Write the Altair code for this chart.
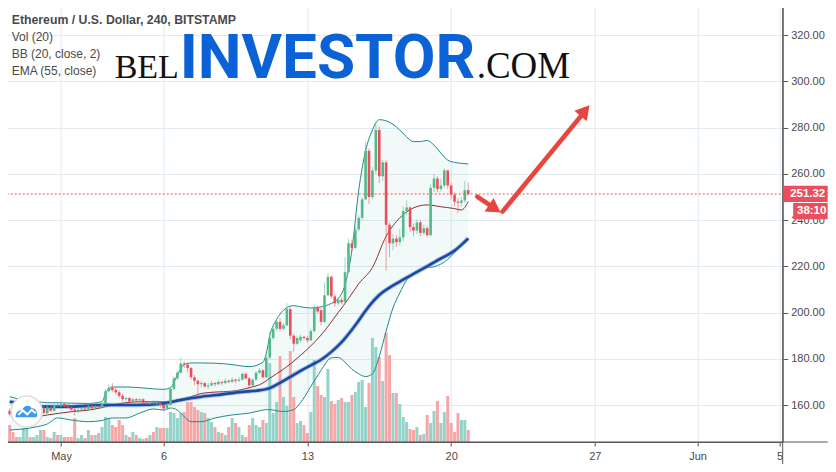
import altair as alt
import pandas as pd

# ---------------- data (4h candles, ETH/USD, from 28 Apr 12:00) ----------------
opens = [157.5,156,154.5,153,154,155.5,156,155,156.5,157.5,158.5,156.5,159,157.5,160,159.5,160.5,159.5,159,158,
         157,158,158.5,158,159.5,158.5,159.5,159,160.5,166,167.5,166.5,165.5,164,162.5,163,161.5,162.5,162,162.5,
         161,160.5,161,160.5,161,160,158.5,160,167,171.5,174,178,177.5,176,172,170.5,169,169.5,168,168.5,
         169.5,169,170,169.5,170.5,170,171,170.5,171,173.5,171.5,168.5,171,174,175,172,180.5,189,193,196,
         193,194.5,201.5,190,186.5,188,189.5,189,188,192,202,201,196,207.5,215.5,207,204,205.5,204.5,217.5,
         230,228,236,241,249,270,250,261.5,279,259,265,238,230,232,230.5,232.5,244,245.5,237,235.5,
         239,234.5,236.5,233.5,254,258,253.5,255,261.5,255,251,248,247.5,248.5,253]
closes = [156,154.5,153,154,155.5,156,155,156.5,157.5,158.5,156.5,159,157.5,160,159.5,160.5,159.5,159,158,157,
          158,158.5,158,159.5,158.5,159.5,159,160.5,166,167.5,166.5,165.5,164,162.5,163,161.5,162.5,162,162.5,161,
          160.5,161,160.5,161,160,158.5,160,167,171.5,174,178,177.5,176,172,170.5,169,169.5,168,168.5,169.5,
          169,170,169.5,170.5,170,171,170.5,171,173.5,171.5,168.5,171,174,175,172,180.5,189,193,196,193,
          194.5,201.5,190,186.5,189,189.5,189,188,192,202,200.5,196,207.5,215.5,207,204,205.5,204.5,217.5,230,
          228,236,241,249,270,250,261.5,279,259,265,238,230,232,230.5,232.5,244,245.5,237,235.5,239,
          234.5,236.5,233.5,254,258,253.5,255,261.5,255,251,248,247.5,248.5,253,251.32]
highs = [158.5,157,155.5,155,156.5,157,157,157.5,158.5,159.5,159.5,160,159.5,161,161,161.5,161,160.5,159.5,159,
         158.5,159,159,160,160,160,160,161,167,169,169.5,167.5,166.5,165,163.5,163.5,163,163,163,163,
         161.5,161.5,162,162,161.5,160.5,161,168,172.5,175,180.5,179,178.5,176.5,173,171,170.5,170,169.5,170.5,
         170,171,170.5,171.5,171,172,171.5,172,174,174,172,171.5,174.5,176,175.5,181.5,192,194,197,197.5,
         195.5,204,202,191,190,190.5,190,190,193,203.5,203,202,213,217,216,208,206.5,206.5,224,232,
         231.5,237,242,250,274,271,263,282,280.5,266,266,239,234,233.5,236,246,248.5,246,238.5,240.5,
         240,238,237.5,255.5,260,259,258,262.5,262,256,252,249.5,250,257,256.5]
lows = [155,153.5,152,152,153.5,155,154,154.5,156,157,156,156,157,157,159,159,159,158.5,157,155.5,
        156.5,157.5,157.5,157.5,158,158,158.5,158.5,160,165.5,165.5,164.5,163,161.5,161.5,161,161,161.5,161.5,160.5,
        160,160,159.5,160,159,157.5,158,159.5,166.5,171,173.5,176,174,171,168.5,163.5,167.5,167.5,167,168,
        168,168.5,168.5,169,169.5,169.5,169.5,170,170.5,171,167,168,170.5,173.5,171.5,171.5,180,188,192,192,
        192.5,194,188.5,183,186,187,188,187,187.5,191.5,199.5,194.5,195.5,207,206,202.5,203,203.5,204,217,
        226.5,227.5,235,240,248.5,247,249,260,256,257,218,224,227,228.5,229,231,242,235,233,234,
        233,233.5,232.5,233,252,252,252.5,254,253.5,249,246,243,246,247.5,250.5]
volumes = [8.5,5,2.5,2.5,7,7,2.5,2.5,3.5,6,6,2.5,2,5,3.5,3.5,2.5,2.5,2.5,12,
           2,3.5,2,6,3.5,3.5,4.5,7.5,12.5,12,8.5,7.5,11,8.5,3.5,2.5,5,3.5,2,1.5,
           2,3.5,5,7.5,7,7,7,15,14.5,12,14.5,15,20,20,17.5,16,15,14.5,12,10,
           7.5,5,4.5,3.5,7.5,12,9.5,7.5,3.5,2.5,8.5,12,8.5,7.5,11,9.5,39.5,14.5,20,43,
           22.5,18,45.5,22.5,9.5,10.5,8.5,4.5,15,41,28,23.5,22.5,36.5,20.5,19,21,22,20,20,
           23.5,25,30,31,17.5,29.5,52,47.5,42.5,30.5,54.5,43.5,24.5,24.5,19,12.5,10,6.5,6,7.5,
           3.5,4,13.5,9.5,15.5,20.5,9.5,15,23,9.5,5,14.5,11,11,6]

# indicator readings (candle index -> value)
band_idx = [0,3,8,11,14,18,23,27,28,30,34,38,42,45,47,49,51,53,56,60,65,70,74,75,76,78,80,83,85,88,91,94,96,98,
            100,102,104,106,108,110,112,114,116,118,120,122,124,126,128,130,132,134]
bb_upper = [163.6,162.5,161.5,161,161,160.8,160.7,161.5,165,167.8,167.8,167.5,167,166.8,167.5,173,177.5,178.2,178.2,178.1,
            177.5,176.6,178.5,182.5,190,197,201,203,202.5,202,202.5,204,206,212,
            227,253,270,279,283.5,283,281.5,279,276,274,274,274.5,272.5,269,266,265,264.6,264.3]
bb_lower = [149.2,149.5,150.6,151.8,154.4,153.5,152.8,153.3,153.8,154.4,154.4,156.5,158.3,157.8,158.7,157.8,155,152.8,152.8,154.4,
            155.7,156.5,157.8,158,158,157.5,157.2,158,161,168,175,180.4,180.6,178.5,
            175.5,173.5,172.3,173.5,181,192,202,208.5,214,217,218.5,219.5,219.8,221,223,226,229.3,232]
basis_idx = [0,5,11,18,23,27,30,38,45,49,53,56,60,65,70,74,76,80,85,91,96,99,102,106,110,114,118,122,126,130,132,134]
bb_basis = [156.5,154.4,155.7,157.1,157.8,158.9,160,161.4,161.4,162.2,163.6,165,165.6,166,167.5,169.5,171.6,175.5,181.5,190.3,
            200,206,212.5,219.5,233,241,245.3,246.6,245.8,245,244.4,248]
ema_idx = [0,4,10,18,27,37,45,50,56,62,68,72,76,79,82,85,88,91,94,97,100,102,104,106,108,111,114,117,120,123,126,128,130,132,134]
ema_vals = [161.4,160.7,159.3,159.3,160,160,160.7,162.2,163.6,164.6,165.7,166.2,167.3,169.6,172.2,174.8,177.2,179.6,183,187.2,
            192.6,196.6,200.8,204.5,207.6,210.8,213.4,215.9,218.4,220.9,223.4,225,226.8,229.3,232.1]

tick_days = [0, 5, 12, 19, 26, 31, 35]
tick_labels = ["May", "6", "13", "20", "27", "Jun", "5"]
price_ticks = [160, 180, 200, 220, 240, 260, 280, 300, 320]
last_price = 251.32
countdown = "38:10"
title_text = "Ethereum / U.S. Dollar, 240, BITSTAMP"
legend_text = "Vol (20)\nBB (20, close, 2)\nEMA (55, close)"

# arrow annotation (day, price)
arrow1_day = [20.27, 21.05]
arrow1_price = [250.15, 245.5]
arrow2_day = [21.5, 25.46]
arrow2_price = [243.7, 286.5]
head_day = [21.13, 25.52]
head_price = [245.0, 287.4]
head_angle = [123.7, 39.8]

X_DOMAIN = [-2.596, 34.904]
Y_DOMAIN = [144.0, 334.4]
W, H = 780, 440
RP, BP = 45, 22          # room for price scale and time scale (keeps page free of scrollbars)

UP, DOWN = "#53b987", "#eb4d5c"
VOL_UP, VOL_DOWN = "#93d3c9", "#f6a6a6"

def day(i):
    return -2.5 + i / 6.0

candles = pd.DataFrame({
    "day": [day(i) for i in range(len(opens))],
    "open": opens, "close": closes, "high": highs, "low": lows, "vol": volumes,
})
candles["dir"] = ["up" if c >= o else "down" for o, c in zip(opens, closes)]

band = pd.DataFrame({"day": [day(i) for i in band_idx], "upper": bb_upper, "lower": bb_lower})
basis = pd.DataFrame({"day": [day(i) for i in basis_idx], "v": bb_basis})
ema = pd.DataFrame({"day": [day(i) for i in ema_idx], "v": ema_vals})

xs = alt.Scale(domain=X_DOMAIN, nice=False, zero=False)
ys = alt.Scale(domain=Y_DOMAIN, nice=False, zero=False)

label_expr = " : ".join(
    f"datum.value == {d} ? '{l}'" for d, l in zip(tick_days, tick_labels)
) + " : ''"

X_AXIS = alt.Axis(
    values=tick_days, labelExpr=label_expr, grid=True, gridColor="#e3ebf2", domain=False,
    ticks=True, tickColor="#555", tickSize=4, labelFont="Liberation Sans", labelFontSize=11,
    labelColor="#4a4a4a", labelPadding=5, labelFlush=False, labelOverlap=False, labelBound=False,
    title=None, zindex=0)
Xn = alt.X("day:Q", scale=xs, axis=X_AXIS)

def Yp(field, axis=False):
    if axis:
        return alt.Y(field, type="quantitative", scale=ys, axis=alt.Axis(
            orient="right", values=price_ticks, format=".2f", grid=True, gridColor="#e3ebf2",
            domain=False, tickColor="#555", tickSize=5, labelFont="Liberation Sans", labelFontSize=11,
            labelColor="#4a4a4a", labelPadding=3, labelFlush=False, labelOverlap=False,
            title=None, zindex=0))
    return alt.Y(field, type="quantitative", scale=ys, axis=None)

base = alt.Chart(candles)

# grid/axes carrier
axes_layer = base.mark_point(opacity=0).encode(x=Xn, y=Yp("close", axis=True))

band_area = alt.Chart(band).mark_area(color="#1e9a9a", opacity=0.06, interpolate="monotone").encode(
    x=Xn, y=Yp("upper"), y2="lower")

vol_bars = base.mark_bar(size=3).encode(
    x=Xn,
    y=alt.Y("vol:Q", scale=alt.Scale(domain=[0, 220], nice=False), axis=None),
    color=alt.Color("dir:N", scale=alt.Scale(domain=["up", "down"], range=[VOL_UP, VOL_DOWN]), legend=None))

upper_line = alt.Chart(band).mark_line(color="#23898b", strokeWidth=1, interpolate="monotone").encode(x=Xn, y=Yp("upper"))
lower_line = alt.Chart(band).mark_line(color="#23898b", strokeWidth=1, interpolate="monotone").encode(x=Xn, y=Yp("lower"))
basis_line = alt.Chart(basis).mark_line(color="#8c2f2f", strokeWidth=1, interpolate="monotone").encode(x=Xn, y=Yp("v"))
ema_glow = alt.Chart(ema).mark_line(color="#6f95d6", strokeWidth=4.5, opacity=0.5, interpolate="monotone").encode(x=Xn, y=Yp("v"))
ema_line = alt.Chart(ema).mark_line(color="#1a4aa3", strokeWidth=2.6, interpolate="monotone").encode(x=Xn, y=Yp("v"))

dir_color = alt.Color("dir:N", scale=alt.Scale(domain=["up", "down"], range=[UP, DOWN]), legend=None)
wicks = base.mark_rule(strokeWidth=1, opacity=0.55).encode(x=Xn, y=Yp("low"), y2="high", color=dir_color)
bodies = base.mark_bar(size=2.6).encode(x=Xn, y=Yp("open"), y2="close", color=dir_color)

price_df = pd.DataFrame({"p": [last_price], "hi": [last_price + 3.6], "lo": [last_price - 3.5],
                         "hi2": [last_price - 3.9], "lo2": [last_price - 10.9],
                         "t": [f"{last_price:.2f}"], "cd": [countdown]})
price_line = alt.Chart(price_df).mark_rule(color="#ef5350", strokeDash=[2, 2], strokeWidth=1).encode(
    y=Yp("p"), x=alt.value(0), x2=alt.value(W))
price_box = alt.Chart(price_df).mark_rect(color="#ec4e5d").encode(
    y=Yp("hi"), y2="lo", x=alt.value(W + 0.5), x2=alt.value(W + RP))
price_txt = alt.Chart(price_df).mark_text(color="white", font="Liberation Sans", fontSize=11.5,
                                          fontWeight="bold", align="center").encode(
    y=Yp("p"), x=alt.value(W + 25), text="t:N")
cd_box = alt.Chart(price_df).mark_rect(color="#ec4e5d").encode(
    y=Yp("hi2"), y2="lo2", x=alt.value(W + 10.5), x2=alt.value(W + RP))
cd_df = price_df.assign(mid=lambda d: (d.hi2 + d.lo2) / 2)
cd_txt = alt.Chart(cd_df).mark_text(color="white", font="Liberation Sans", fontSize=11.5,
                                    fontWeight="bold", align="center").encode(
    y=Yp("mid"), x=alt.value(W + 29), text="cd:N")

one = pd.DataFrame({"a": [0]})
corner = alt.Chart(one).mark_rect(color="white").encode(
    x=alt.value(W + 0.5), x2=alt.value(W + RP), y=alt.value(H + 0.5), y2=alt.value(H + BP))
frame_v = alt.Chart(one).mark_rule(color="#555", strokeWidth=1).encode(
    x=alt.value(W), y=alt.value(0), y2=alt.value(H + BP))
frame_h = alt.Chart(one).mark_rule(color="#555", strokeWidth=1).encode(
    y=alt.value(H), x=alt.value(0), x2=alt.value(W + RP))

title = alt.Chart(pd.DataFrame({"t": [title_text]})).mark_text(
    align="left", baseline="middle", font="Liberation Sans", fontSize=12.3, fontWeight="bold",
    color="#4a4a4a").encode(x=alt.value(9), y=alt.value(18), text="t:N")
legend = alt.Chart(pd.DataFrame({"t": [legend_text]})).mark_text(
    align="left", baseline="middle", font="Liberation Sans", fontSize=12, color="#4a4a4a",
    lineBreak="\n", lineHeight=17).encode(x=alt.value(9), y=alt.value(35), text="t:N")

wm_bel = alt.Chart(pd.DataFrame({"t": ["BEL"]})).mark_text(
    align="left", baseline="alphabetic", font="Liberation Serif", fontSize=34, color="#111").encode(
    x=alt.value(112), y=alt.value(76), text="t:N")
wm_inv = alt.Chart(pd.DataFrame({"t": ["INVESTOR"]})).mark_text(
    align="left", baseline="alphabetic", font="Roboto", fontSize=62, fontWeight="bold", color="#0b62d6").encode(
    x=alt.value(177), y=alt.value(76), text="t:N")
wm_com = alt.Chart(pd.DataFrame({"t": [".COM"]})).mark_text(
    align="left", baseline="alphabetic", font="Liberation Serif", fontSize=37, color="#111").encode(
    x=alt.value(474), y=alt.value(76), text="t:N")

arrow_df1 = pd.DataFrame({"day": arrow1_day, "p": arrow1_price})
arrow_df2 = pd.DataFrame({"day": arrow2_day, "p": arrow2_price})
heads = pd.DataFrame({"day": head_day, "p": head_price, "ang": head_angle})
ARROW = "#e8453c"
shadow1 = alt.Chart(arrow_df1).mark_line(color="#888", strokeWidth=5, opacity=0.25, dx=1.5, dy=2).encode(x=Xn, y=Yp("p"))
shadow2 = alt.Chart(arrow_df2).mark_line(color="#888", strokeWidth=5, opacity=0.25, dx=1.5, dy=2).encode(x=Xn, y=Yp("p"))
arrow1 = alt.Chart(arrow_df1).mark_line(color=ARROW, strokeWidth=4.5, strokeCap="round").encode(x=Xn, y=Yp("p"))
arrow2 = alt.Chart(arrow_df2).mark_line(color=ARROW, strokeWidth=4.5, strokeCap="round").encode(x=Xn, y=Yp("p"))
arrow_heads = alt.Chart(heads).mark_point(shape="triangle-up", filled=True, color=ARROW, size=260, opacity=1).encode(
    x=Xn, y=Yp("p"), angle=alt.Angle("ang:Q", scale=None))

logo_bg = alt.Chart(one).mark_point(shape="circle", filled=True, fill="white", stroke="#dddddd",
                                    strokeWidth=1.5, size=960, opacity=1).encode(
    x=alt.value(24), y=alt.value(409.5))
logo_cloud = alt.Chart(one).mark_point(
    shape="M-1,0.55 C-1,0.1 -0.7,-0.1 -0.4,-0.05 C-0.3,-0.5 0.2,-0.6 0.45,-0.25 C0.8,-0.3 1,0.1 0.9,0.55 Z",
    filled=True, color="#3d9be9", size=500, opacity=1).encode(x=alt.value(24), y=alt.value(409))
logo_zig = alt.Chart(one).mark_point(
    shape="M-0.75,0.35 L-0.35,-0.05 L0.05,0.3 L0.45,-0.1 L0.8,0.2",
    filled=False, stroke="white", strokeWidth=2, size=500, opacity=1).encode(x=alt.value(24), y=alt.value(409))

chart = alt.layer(
    axes_layer, band_area, vol_bars, upper_line, lower_line, basis_line, ema_glow, ema_line,
    wicks, bodies, price_line, corner, price_box, price_txt, cd_box, cd_txt,
    frame_v, frame_h, title, legend, wm_bel, wm_inv, wm_com,
    shadow1, shadow2, arrow1, arrow2, arrow_heads, logo_bg, logo_cloud, logo_zig,
).resolve_scale(y="independent", color="independent").properties(
    width=W, height=H,
    padding={"left": -5.3, "top": -6, "right": RP, "bottom": BP},
    autosize=alt.AutoSizeParams(type="none"),
    background="white",
).configure_view(stroke="#555", strokeWidth=1)

chart.save("out.html", embed_options={"renderer": "svg", "actions": False})
